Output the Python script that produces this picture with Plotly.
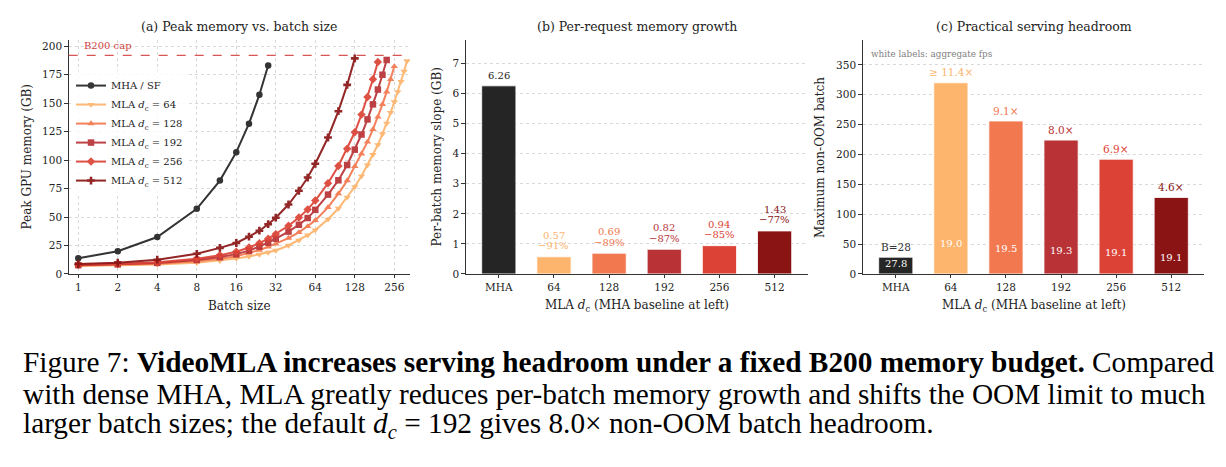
import plotly.graph_objects as go

W, H = 1226, 467
FONT = "DejaVu Serif"
CAP_FONT = "Liberation Serif"

# ---------------- data ----------------
mha_batch = [1, 2, 4, 8, 12, 16, 20, 24, 28]
mha_mem = [13.8, 19.9, 32.4, 57.2, 82.0, 107.0, 132.0, 157.4, 183.2]

batch_512 = [1, 2, 4, 8, 12, 16, 20, 24, 28, 32, 40, 48, 56, 64, 80, 96, 112, 128]
mem_512 = [8.7, 9.9, 12.5, 17.7, 22.9, 27.2, 32.7, 38.0, 43.7, 49.4, 61.0, 73.1, 84.7, 96.8,
           119.9, 143.0, 166.1, 189.4]

batch_256 = [1, 2, 4, 8, 12, 16, 20, 24, 28, 32, 40, 48, 56, 64, 80, 96, 112, 128,
             144, 160, 176, 192]
mem_256 = [8.0, 8.8, 10.3, 13.4, 16.4, 19.5, 23.2, 27.0, 31.0, 35.0, 42.3, 49.5, 56.7, 64.5,
           79.7, 94.8, 110.0, 124.5, 140.0, 155.5, 171.0, 186.3]

batch_192 = [1, 2, 4, 8, 12, 16, 20, 24, 28, 32, 40, 48, 56, 64, 80, 96, 112, 128,
             144, 160, 176, 192, 208, 224]
mem_192 = [7.7, 8.4, 9.7, 12.2, 14.8, 17.4, 20.5, 24.0, 27.5, 31.0, 37.2, 43.2, 49.1, 56.3,
           69.7, 82.3, 95.7, 109.2, 122.5, 135.8, 149.0, 162.0, 175.0, 188.0]

batch_128 = [1, 2, 4, 8, 12, 16, 20, 24, 28, 32, 40, 48, 56, 64, 80, 96, 112, 128,
             144, 160, 176, 192, 208, 224, 240, 256]
mem_128 = [7.4, 8.0, 9.0, 11.2, 13.3, 15.5, 18.3, 21.0, 23.8, 26.5, 31.5, 36.5, 41.7, 47.0,
           58.5, 70.5, 82.0, 94.5, 105.5, 116.0, 127.0, 138.0, 149.0, 160.0, 171.0, 182.3]

batch_64 = [1, 2, 4, 8, 12, 16, 20, 24, 28, 32, 40, 48, 56, 64, 80, 96, 112, 128,
            144, 160, 176, 192, 208, 224, 240, 256, 272, 288, 304, 320]
mem_64 = [7.0, 7.5, 8.3, 9.8, 11.6, 13.5, 15.3, 17.1, 18.9, 20.6, 25.0, 29.5, 34.0, 38.5,
          48.0, 57.5, 67.3, 76.6, 86.0, 95.7, 104.8, 113.5, 123.0, 132.3, 141.8, 151.1,
          160.0, 169.0, 178.0, 187.2]

b200_cap = 192
x_ticks_a = [1, 2, 4, 8, 16, 32, 64, 128, 256]

categories = ["MHA", "64", "128", "192", "256", "512"]
slope_gb = [6.26, 0.57, 0.69, 0.82, 0.94, 1.43]
slope_reduction = ["", "\u221291%", "\u221289%", "\u221287%", "\u221285%", "\u221277%"]

max_batch = [28, 320, 256, 224, 192, 128]
headroom_labels = ["B=28", "\u2265 11.4\u00d7", "9.1\u00d7", "8.0\u00d7", "6.9\u00d7", "4.6\u00d7"]
agg_fps = [27.8, 19.0, 19.5, 19.3, 19.1, 19.1]

colors = ["#252525", "#fdb46c", "#f2784f", "#b83236", "#dc4336", "#8a1414"]

# ---------------- helpers ----------------
def px(x):
    return x / W


def py(y):
    return 1 - y / H


fig = go.Figure()

series = [
    ("MHA / SF", mha_batch, mha_mem, colors[0], "circle"),
    ("MLA <i>d</i><sub>c</sub> = 64", batch_64, mem_64, colors[1], "triangle-down"),
    ("MLA <i>d</i><sub>c</sub> = 128", batch_128, mem_128, colors[2], "triangle-up"),
    ("MLA <i>d</i><sub>c</sub> = 192", batch_192, mem_192, colors[3], "square"),
    ("MLA <i>d</i><sub>c</sub> = 256", batch_256, mem_256, colors[4], "diamond"),
    ("MLA <i>d</i><sub>c</sub> = 512", batch_512, mem_512, colors[5], "cross"),
]
for name, bx, by, c, sym in series:
    fig.add_trace(go.Scatter(
        x=bx, y=by, name=name, mode="lines+markers",
        line=dict(color=c, width=2), opacity=0.92,
        marker=dict(symbol=sym, size=6.5, color=c),
        xaxis="x", yaxis="y", showlegend=True))

idx = list(range(len(categories)))
# panel b bars
fig.add_trace(go.Bar(
    x=idx, y=slope_gb, marker=dict(color=colors, line=dict(color="white", width=0.8)),
    width=0.62, xaxis="x2", yaxis="y2", showlegend=False))
# panel c bars
fig.add_trace(go.Bar(
    x=idx, y=max_batch, marker=dict(color=colors, line=dict(color="white", width=0.8)),
    width=0.62, xaxis="x3", yaxis="y3", showlegend=False))

annotations = []
shapes = []

# cap line
shapes.append(dict(type="line", xref="x domain", yref="y", x0=0, x1=1, y0=b200_cap, y1=b200_cap,
                   line=dict(color="#d95555", width=1.3, dash="dash")))
annotations.append(dict(xref="x domain", yref="paper", x=0.04, y=py(46.5), text="B200 cap",
                        showarrow=False, xanchor="left", yanchor="middle",
                        font=dict(family=FONT, size=10, color="#d0413c")))

LBL = 10
# panel b labels
label_colors = ["#222222"] + colors[1:]
for i, v in enumerate(slope_gb):
    if slope_reduction[i]:
        annotations.append(dict(xref="x2", yref="y2", x=i, y=v, text=slope_reduction[i],
                                showarrow=False, yanchor="middle", yshift=11,
                                font=dict(family=FONT, size=LBL, color=label_colors[i])))
        annotations.append(dict(xref="x2", yref="y2", x=i, y=v, text=f"{v:.2f}",
                                showarrow=False, yanchor="middle", yshift=21.5,
                                font=dict(family=FONT, size=LBL, color=label_colors[i])))
    else:
        annotations.append(dict(xref="x2", yref="y2", x=i, y=v, text=f"{v:.2f}",
                                showarrow=False, yanchor="middle", yshift=10.5,
                                font=dict(family=FONT, size=LBL, color=label_colors[i])))

# panel c labels
for i, v in enumerate(max_batch):
    annotations.append(dict(xref="x3", yref="y3", x=i, y=v, text=headroom_labels[i],
                            showarrow=False, yanchor="middle", yshift=10.5,
                            font=dict(family=FONT, size=LBL + 0.5,
                                      color="#333333" if i == 0 else colors[i])))
    if v < 50:
        annotations.append(dict(xref="x3", yref="y3", x=i, y=v * 0.62, text=f"{agg_fps[i]:.1f}",
                                showarrow=False, yanchor="middle",
                                font=dict(family=FONT, size=LBL, color="white")))
    else:
        annotations.append(dict(xref="x3", yref="y3", x=i, y=v * 0.12, text=f"{agg_fps[i]:.1f}",
                                showarrow=False, yanchor="bottom",
                                font=dict(family=FONT, size=LBL, color="white")))
annotations.append(dict(xref="paper", yref="paper", x=px(869), y=py(55), text="white labels: aggregate fps",
                        showarrow=False, xanchor="left", yanchor="middle",
                        font=dict(family=FONT, size=8.8, color="#808080")))

# titles
dom_a = (68.7, 410.0)
dom_b = (465.7, 807.7)
dom_c = (862.7, 1204.3)
top_px, bot_px = 40.7, 277.5
for dom, t in [(dom_a, "(a) Peak memory vs. batch size"),
               (dom_b, "(b) Per-request memory growth"),
               (dom_c, "(c) Practical serving headroom")]:
    annotations.append(dict(xref="paper", yref="paper", x=px((dom[0] + dom[1]) / 2), y=py(26.5),
                            text=t, showarrow=False, xanchor="center", yanchor="middle",
                            font=dict(family=FONT, size=12.5, color="#222222")))

# axis titles
for xc, t in [(239, "Batch size"), (636.7, "MLA <i>d</i><sub>c</sub> (MHA baseline at left)"),
              (1033.5, "MLA <i>d</i><sub>c</sub> (MHA baseline at left)")]:
    annotations.append(dict(xref="paper", yref="paper", x=px(xc), y=py(309.5), text=t,
                            showarrow=False, xanchor="center", yanchor="middle",
                            font=dict(family=FONT, size=12, color="#222222")))
for xc, t in [(26.5, "Peak GPU memory (GB)"), (436.5, "Per-batch memory slope (GB)"),
              (820, "Maximum non-OOM batch")]:
    annotations.append(dict(xref="paper", yref="paper", x=px(xc), y=py(159), text=t, textangle=-90,
                            showarrow=False, xanchor="center", yanchor="middle",
                            font=dict(family=FONT, size=12, color="#222222")))

# caption (one annotation per line)
caption_lines = [
    "Figure 7: <b>VideoMLA increases serving headroom under a fixed B200 memory budget.</b> Compared",
    "with dense MHA, MLA greatly reduces per-batch memory growth and shifts the OOM limit to much",
    "larger batch sizes; the default <i>d<sub>c</sub></i> = 192 gives 8.0\u00d7 non-OOM batch headroom.",
]
for k, line in enumerate(caption_lines):
    annotations.append(dict(xref="paper", yref="paper", x=px(21), y=py(367 + 32 * k), text=line,
                            showarrow=False, xanchor="left", yanchor="middle", align="left",
                            font=dict(family=CAP_FONT, size=29.3, color="#000000")))

axis_common = dict(showline=True, linecolor="#333333", linewidth=1, ticks="outside", ticklen=3.5,
                   tickwidth=1, tickcolor="#333333", mirror=False, zeroline=False,
                   tickfont=dict(family=FONT, size=10.5, color="#222222"),
                   gridcolor="#d9d9d9", gridwidth=0.8, griddash="dot")

fig.update_layout(
    width=W, height=H, margin=dict(l=0, r=0, t=0, b=0),
    paper_bgcolor="white", plot_bgcolor="white",
    font=dict(family=FONT, color="#222222"),
    xaxis=dict(domain=[px(dom_a[0]), px(dom_a[1])], anchor="y", type="log",
               range=[-0.073, 2.528], tickvals=x_ticks_a, ticktext=[str(v) for v in x_ticks_a],
               showgrid=True, **axis_common),
    yaxis=dict(domain=[py(bot_px), py(top_px)], anchor="x", range=[0, 205.4],
               tickvals=[0, 25, 50, 75, 100, 125, 150, 175, 200], showgrid=True, **axis_common),
    xaxis2=dict(domain=[px(dom_b[0]), px(dom_b[1])], anchor="y2",
                range=[-0.6, 5.6], tickvals=idx, ticktext=categories, showgrid=False, **axis_common),
    yaxis2=dict(domain=[py(bot_px), py(top_px)], anchor="x2", range=[0, 7.78],
                tickvals=[0, 1, 2, 3, 4, 5, 6, 7], showgrid=True, **axis_common),
    xaxis3=dict(domain=[px(dom_c[0]), px(dom_c[1])], anchor="y3",
                range=[-0.6, 5.6], tickvals=idx, ticktext=categories, showgrid=False, **axis_common),
    yaxis3=dict(domain=[py(bot_px), py(top_px)], anchor="x3", range=[0, 391.3],
                tickvals=[0, 50, 100, 150, 200, 250, 300, 350], showgrid=True, **axis_common),
    legend=dict(x=px(71), y=py(72), xanchor="left", yanchor="top", bgcolor="rgba(255,255,255,0.8)",
                font=dict(family=FONT, size=10, color="#222222"), itemwidth=30,
                tracegroupgap=0),
    annotations=annotations, shapes=shapes,
)

fig.write_html("out.html")
